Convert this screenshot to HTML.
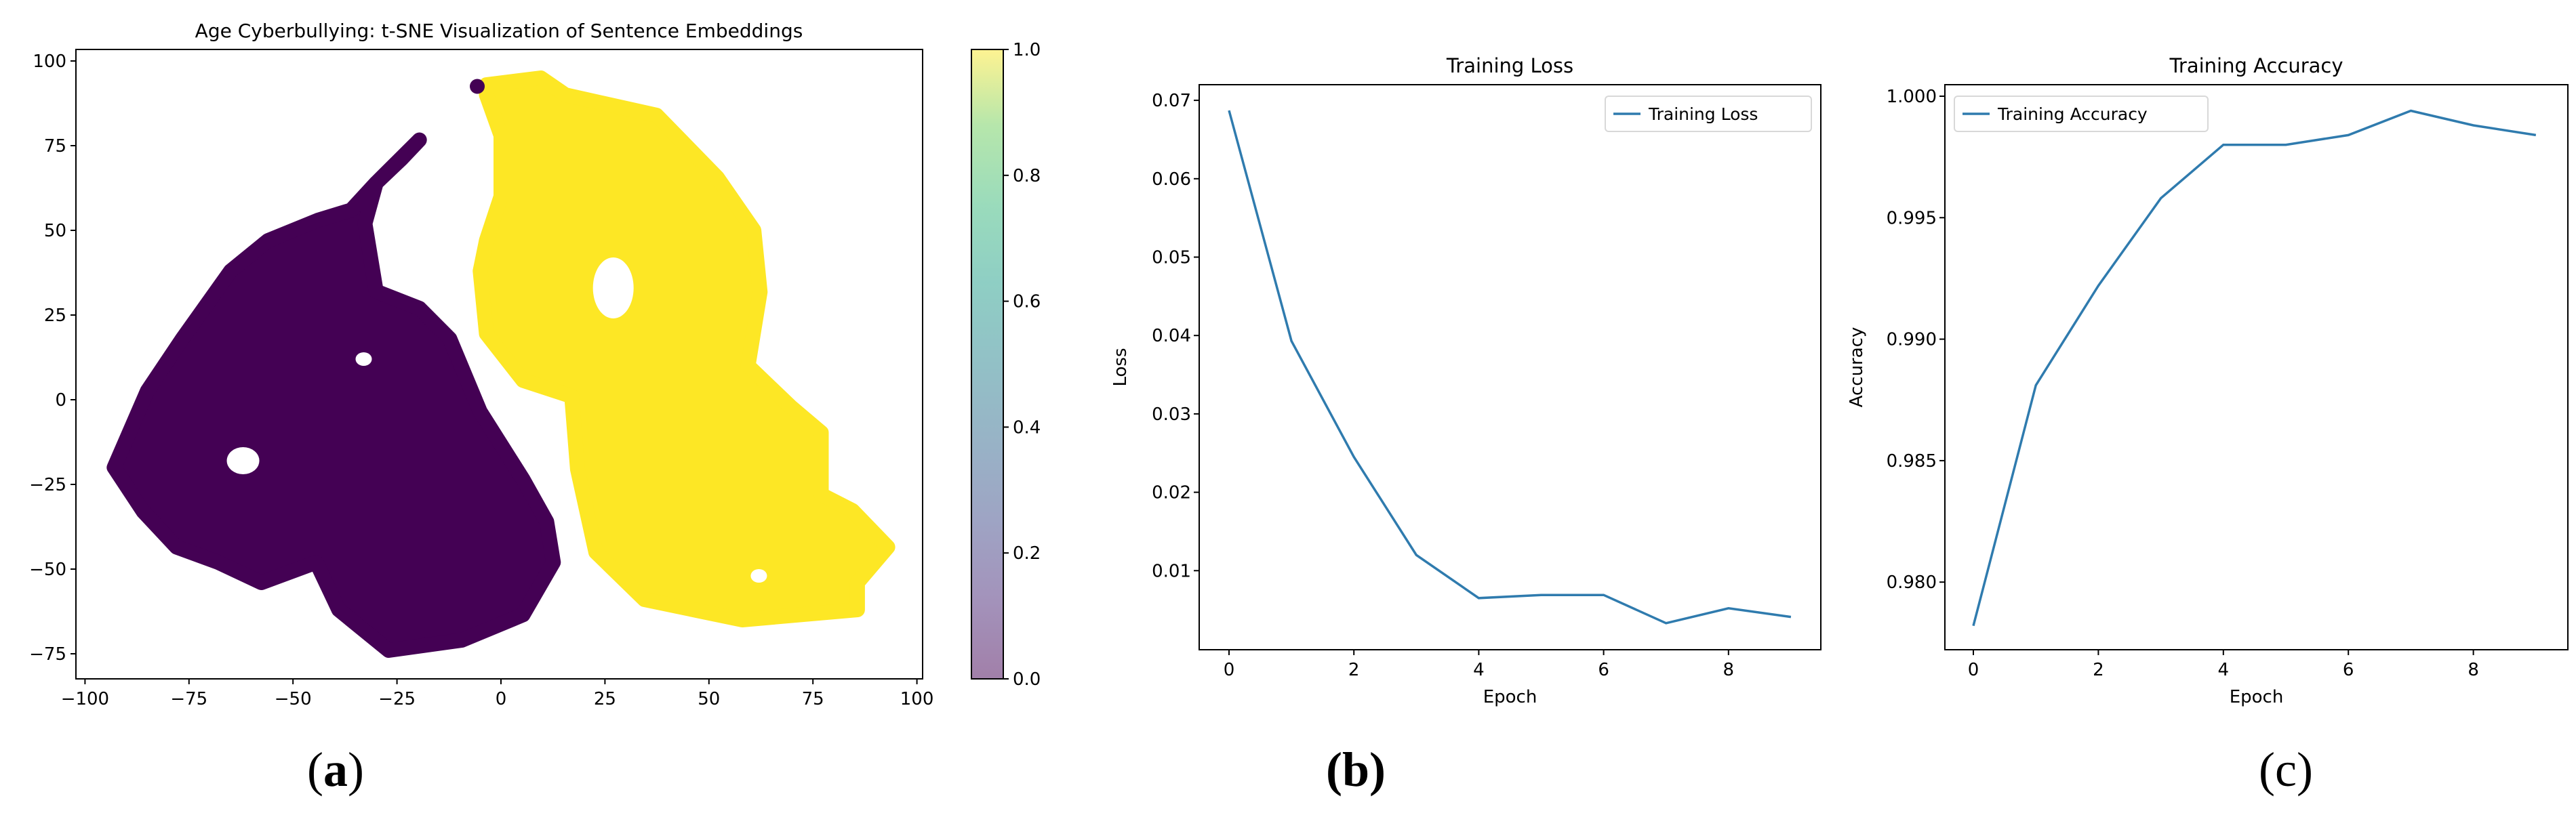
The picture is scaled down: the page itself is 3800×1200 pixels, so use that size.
<!DOCTYPE html>
<html><head><meta charset="utf-8"><style>
html,body{margin:0;padding:0;background:#fff;}
svg{display:block;font-family:"DejaVu Sans","Liberation Sans",sans-serif;}
</style></head><body>
<svg id="fig" width="3800" height="1200" viewBox="0 0 3800 1200">
<defs>
<linearGradient id="vir" x1="0" y1="1" x2="0" y2="0">
<stop offset="0" stop-color="#440154"/><stop offset="0.13" stop-color="#482878"/><stop offset="0.25" stop-color="#3e4989"/><stop offset="0.38" stop-color="#31688e"/><stop offset="0.5" stop-color="#26828e"/><stop offset="0.63" stop-color="#1f9e89"/><stop offset="0.75" stop-color="#35b779"/><stop offset="0.88" stop-color="#6ece58"/><stop offset="1" stop-color="#fde725"/>
</linearGradient>
</defs>
<g id="pa"></g>
<g id="pb"></g>
<g id="pc"></g>
<text x="495" y="1160" font-family="Liberation Serif,serif" font-size="72" text-anchor="middle">(<tspan font-weight="bold">a</tspan>)</text>
<text x="2000" y="1160" font-family="Liberation Serif,serif" font-size="72" font-weight="bold" text-anchor="middle">(b)</text>
<text x="3372" y="1160" font-family="Liberation Serif,serif" font-size="72" text-anchor="middle">(c)</text>
</svg>
<script>
// ---- t-SNE data (cluster outlines in data coords) ----
const purpleX=[-19.6,-24,-30,-36,-44,-56,-65,-76.6,-85,-93,-86,-78,-68,-57.6,-44.4,-39,-27,-9.4,5.3,12.6,11,5.3,-5,-12.3,-19.6,-30,-32.7,-30];
const purpleY=[76.7,71,64,56,53,47,38,18,2.6,-20,-33,-43.5,-48,-54,-48,-62,-74,-71,-63.5,-48,-36,-23.5,-3.5,18,27,32,52,64];
const yellowX=[-3.5,9.6,15.5,37.4,52,60.8,62.3,59.4,69.6,77,77,84.5,93,85.7,85.7,58,34.5,22.8,18.4,17,5.3,-3.5,-5,-3.5,0,0,-3.5];
const yellowY=[93,95,90,84,65.6,50,31.8,10,-2,-9.7,-28,-32.7,-43.5,-54,-62,-65,-59,-45,-20.5,1,5.7,19.5,38,47,60,78,90];
const holeX=[-62,-33,27,62];
const holeY=[-18,12,33,-52];
const holeR=[4,2,5,2];
const tsneTicks=[-100,-75,-50,-25,0,25,50,75,100];
const cbTicks=[0.0,0.2,0.4,0.6,0.8,1.0];
// ---- training data ----
const epochs=[0,1,2,3,4,5,6,7,8,9];
const lossVals=[0.0687,0.0393,0.0245,0.0120,0.0065,0.0069,0.0069,0.0033,0.0052,0.0041];
const accVals=[0.9782,0.9881,0.9922,0.9958,0.9980,0.9980,0.9984,0.9994,0.9988,0.9984];
const epochTicks=[0,2,4,6,8];
const lossTicks=[0.01,0.02,0.03,0.04,0.05,0.06,0.07];
const accTicks=[0.980,0.985,0.990,0.995,1.000];

const NS="http://www.w3.org/2000/svg";
function mk(parent,tag,attrs,txt){const e=document.createElementNS(NS,tag);for(const k in attrs)e.setAttribute(k,attrs[k]);if(txt!==undefined)e.textContent=txt;parent.appendChild(e);return e;}

// ---- panel a ----
const pa=document.getElementById('pa');
const ax=v=>739+v*153.4/25, ay=v=>590-v*125/25;
function drawBlob(xs,ys,col,name){
  const d=xs.map((x,i)=>(i?'L':'M')+ax(x).toFixed(1)+','+ay(ys[i]).toFixed(1)).join('')+'Z';
  const p=mk(pa,'path',{d:d,fill:col,stroke:col,'stroke-width':22,'stroke-linejoin':'round'});
  
  
}
drawBlob(purpleX,purpleY,'#440154','cluster-class-0');
drawBlob(yellowX,yellowY,'#fde725','cluster-class-1');
const tip=mk(pa,'circle',{cx:ax(-5.7),cy:ay(92.5),r:11,fill:'#440154'});


holeX.forEach((h,i)=>{
  const c=mk(pa,'ellipse',{cx:ax(h),cy:ay(holeY[i]),rx:holeR[i]*6,ry:holeR[i]*(i==2?9:5),fill:'#fff'});
  
  
});
const fa=mk(pa,'rect',{x:112,y:73,width:1249,height:929,fill:'none',stroke:'#000','stroke-width':2});


tsneTicks.forEach(t=>{
  mk(pa,'line',{x1:ax(t),x2:ax(t),y1:1002,y2:1010,stroke:'#000','stroke-width':2});
  const l=mk(pa,'text',{x:ax(t),y:1040,'font-size':26,'text-anchor':'middle'},t<0?'\u2212'+(-t):String(t));
  
  
  if(t>=-75){
    mk(pa,'line',{x1:104,x2:112,y1:ay(t),y2:ay(t),stroke:'#000','stroke-width':2});
    const yl=mk(pa,'text',{x:98,y:ay(t)+9,'font-size':26,'text-anchor':'end'},t<0?'\u2212'+(-t):String(t));
    
    
  }
});
const ta=mk(pa,'text',{x:736,y:55,'font-size':28,'text-anchor':'middle'},'Age Cyberbullying: t-SNE Visualization of Sentence Embeddings');


const cb=mk(pa,'rect',{x:1433,y:73,width:47,height:929,fill:'url(#vir)','fill-opacity':0.5,stroke:'#000','stroke-width':2});


const cy=v=>1002-v*929;
cbTicks.forEach(t=>{
  mk(pa,'line',{x1:1480,x2:1488,y1:cy(t),y2:cy(t),stroke:'#000','stroke-width':2});
  const l=mk(pa,'text',{x:1494,y:cy(t)+9,'font-size':26},t.toFixed(1));
  
  
});

// ---- line panels ----
function linePanel(g,L,R,T,B,x0,xs,y0,ys,yTicks,dec,vals,title,ylab,legX,legW){
  const X=v=>x0+v*xs, Y=v=>y0-(v)*ys;
  const fr=mk(g,'rect',{x:L,y:T,width:R-L,height:B-T,fill:'none',stroke:'#000','stroke-width':2});
  
  
  epochTicks.forEach(t=>{
    mk(g,'line',{x1:X(t),x2:X(t),y1:B,y2:B+8,stroke:'#000','stroke-width':2});
    const l=mk(g,'text',{x:X(t),y:B+38,'font-size':26,'text-anchor':'middle'},String(t));
    
    
  });
  yTicks.forEach(t=>{
    mk(g,'line',{x1:L-8,x2:L,y1:Y(t),y2:Y(t),stroke:'#000','stroke-width':2});
    const l=mk(g,'text',{x:L-12,y:Y(t)+9,'font-size':26,'text-anchor':'end'},t.toFixed(dec));
    
    
  });
  const d=epochs.map((e,i)=>(i?'L':'M')+X(e).toFixed(1)+','+Y(vals[i]).toFixed(1)).join('');
  const ln=mk(g,'path',{d:d,fill:'none',stroke:'#2f7bae','stroke-width':3.5});
  
  
  const tt=mk(g,'text',{x:(L+R)/2,y:T-18,'font-size':29,'text-anchor':'middle'},title);
  
  
  const xl=mk(g,'text',{x:(L+R)/2,y:B+78,'font-size':26,'text-anchor':'middle'},'Epoch');
  
  
  const yl=mk(g,'text',{x:0,y:0,'font-size':26,'text-anchor':'middle',transform:`translate(${L-(dec==2?108:122)},${(T+B)/2}) rotate(-90)`},ylab);
  
  
  const lg=mk(g,'rect',{x:legX,y:142,width:legW,height:52,rx:5,fill:'#fff',stroke:'#d8d8d8','stroke-width':2});
  
  
  mk(g,'line',{x1:legX+12,x2:legX+52,y1:168,y2:168,stroke:'#2f7bae','stroke-width':3.5});
  const lt=mk(g,'text',{x:legX+64,y:177,'font-size':25},title);
  
  
}
linePanel(document.getElementById('pb'),1769,2686,125,959,1813,92.1,958,11570,lossTicks,2,lossVals,'Training Loss','Loss',2368,304);
linePanel(document.getElementById('pc'),2869,3788,125,959,2911,92.2,142+1*35860,35860,accTicks,3,accVals,'Training Accuracy','Accuracy',2883,374);
</script>
</body></html>
